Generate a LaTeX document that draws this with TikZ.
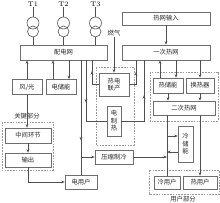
\documentclass[tikz,border=0pt]{standalone}
\usepackage{fontspec}
\newfontfamily\cjk{Noto Sans CJK SC}
\usetikzlibrary{arrows.meta, calc, decorations.markings}
\definecolor{lineGray}{HTML}{505050}
\definecolor{boxGray}{HTML}{6E6E6E}
\newcommand{\pxu}{0.03cm}

\begin{document}
\begin{tikzpicture}[x=0.03cm, y=-0.03cm,
  >={Stealth[length=3pt, width=2.4pt]},
  box/.style={draw=boxGray, line width=0.5pt, inner sep=0pt,
    minimum height=15*\pxu, align=center,
    font=\cjk\fontsize{5.4}{6.4}\selectfont, text=black!85},
  tag/.style={inner sep=0.5pt, font=\cjk\fontsize{5.4}{6.4}\selectfont, text=black!85},
  coil/.style={circle, draw=lineGray, line width=0.5pt, inner sep=0pt},
  wire/.style={color=lineGray, line width=0.5pt},
  dashbox/.style={draw=gray!80, line width=0.5pt, dash pattern=on 1.4pt off 1pt},
  midarrow/.style={postaction={decorate}, decoration={markings,
    mark=at position #1 with {\arrow{>}}}}]
  \useasboundingbox (0,0) rectangle (220,203);

  % transformers
  \foreach \n/\xx in {1/33, 2/63.5, 3/95.5} {
    \node[inner sep=0.5pt, font=\fontsize{5.8}{6}\selectfont] (t\n) at (\xx,4) {T\n};
    \node[coil, minimum size=12*\pxu] (tu\n) at (\xx,23) {};
    \node[coil, minimum size=11*\pxu] (td\n) at (\xx,31.5) {};
    \draw[wire] (t\n) -- (tu\n);
  }

  % electric side
  \node[box, minimum width=87*\pxu] (pdw) at (63.5,52.5) {配电网};
  \node[box, minimum width=30*\pxu] (fg) at (27,87) {风/光};
  \node[box, minimum width=30*\pxu] (dcn) at (61,87) {电储能};
  \node[box, minimum width=30*\pxu, minimum height=23*\pxu] (rdlc) at (114,84.5) {热电\\联产};
  \node[box, minimum width=14*\pxu, minimum height=30*\pxu] (ddr) at (114,121) {电\\制\\热};
  \node[box, minimum width=46*\pxu] (zjhj) at (28,135.5) {中间环节};
  \node[box, minimum width=46*\pxu, minimum height=14*\pxu] (sc) at (28,160) {输出};
  \node[box, minimum width=32*\pxu, minimum height=14*\pxu] (dyh) at (81,182) {电用户};
  \node[box, minimum width=38*\pxu, minimum height=14*\pxu] (yszl) at (114,157) {压缩制冷};
  \node[tag] (rq) at (114,33) {燃气};

  % heat side
  \node[box, minimum width=88*\pxu, minimum height=13*\pxu] (rwsr) at (166,18.5) {热网输入};
  \node[box, minimum width=88*\pxu] (ycrw) at (166,52.5) {一次热网};
  \node[box, minimum width=30*\pxu] (rcn) at (168,85.5) {热储能};
  \node[box, minimum width=28*\pxu] (hrq) at (200,85.5) {换热器};
  \node[box, minimum width=62*\pxu, minimum height=14*\pxu] (ecrw) at (184,108) {二次热网};
  \node[box, minimum width=15*\pxu, minimum height=36*\pxu] (lcn) at (185.5,144) {冷\\储\\能};
  \node[box, minimum width=26*\pxu, minimum height=13*\pxu] (lyh) at (167,182.5) {冷用户};
  \node[box, minimum width=34*\pxu, minimum height=13*\pxu] (ryh) at (200,182.5) {热用户};

  % dashed groups
  \draw[dashbox] (96,67) rectangle (134,145);
  \draw[dashbox] (150,72) rectangle (218,121);
  \draw[dashbox] (2,122) rectangle (53,170);
  \draw[dashbox] (149,170) rectangle (219,194);
  \node[tag] (gjbf) at (27,116) {关键部分};
  \node[tag] (yhbf) at (183,199) {用户部分};

  \foreach \n in {1,2,3}
    \draw[wire] (td\n) -- (td\n |- pdw.north);

  % electric links
  \draw[wire,->] (fg.north) -- (fg.north |- pdw.south);
  \draw[wire,->] (fg.south) -- (fg.south |- zjhj.north);
  \draw[wire,->] (zjhj) -- (sc);
  \draw[wire,->] (sc.south) |- (dyh.west);
  \draw[wire,->] ([xshift=-8*\pxu]dcn.north) -- ([xshift=-8*\pxu]dcn.north |- pdw.south);
  \draw[wire,->] ([xshift=8*\pxu]dcn.north |- pdw.south) -- ([xshift=8*\pxu]dcn.north);
  \draw[wire, midarrow=0.7] (pdw.south -| dyh.north) -- (dyh.north);
  \draw[wire,->] (yszl.west -| dyh.north) -- (yszl.west);
  \draw[wire, midarrow=0.52] ([xshift=22.5*\pxu]pdw.south) |- (ddr.west);
  \draw[wire, midarrow=0.65] (rdlc.west) -| ([xshift=28.5*\pxu]pdw.south);
  \draw[wire,->] (rq.south) -- (rq.south |- rdlc.north);

  % heat links
  \draw[wire, midarrow=0.62] (rdlc.east) -| ([xshift=-30*\pxu]ycrw.south);
  \draw[wire, midarrow=0.58] (ddr.east) -| ([xshift=-22*\pxu]ycrw.south);
  \draw[wire,->] (rwsr) -- (ycrw);
  \draw[wire,->] ([xshift=-8*\pxu]rcn.north) -- ([xshift=-8*\pxu]rcn.north |- ycrw.south);
  \draw[wire,->] ([xshift=8*\pxu]rcn.north |- ycrw.south) -- ([xshift=8*\pxu]rcn.north);
  \draw[wire,->] (hrq.north |- ycrw.south) -- (hrq);
  \draw[wire,->] (rcn.south) -- (rcn.south |- ecrw.north);
  \draw[wire,->] (hrq.south) -- (hrq.south |- ecrw.north);
  \draw[wire] (lyh.north |- ecrw.south) -- (lyh);
  \draw[wire,->] (ryh.north |- ecrw.south) -- (ryh);
  \draw[wire,->] ([yshift=8*\pxu]lcn.west -| lyh.north) -- ([yshift=8*\pxu]lcn.west);
  \draw[wire,->] ([yshift=-8*\pxu]lcn.west) -- ([yshift=-8*\pxu]lcn.west -| lyh.north);
  \draw[wire,->] (yszl.east) -- (yszl.east -| lyh.north);
\end{tikzpicture}
\end{document}
